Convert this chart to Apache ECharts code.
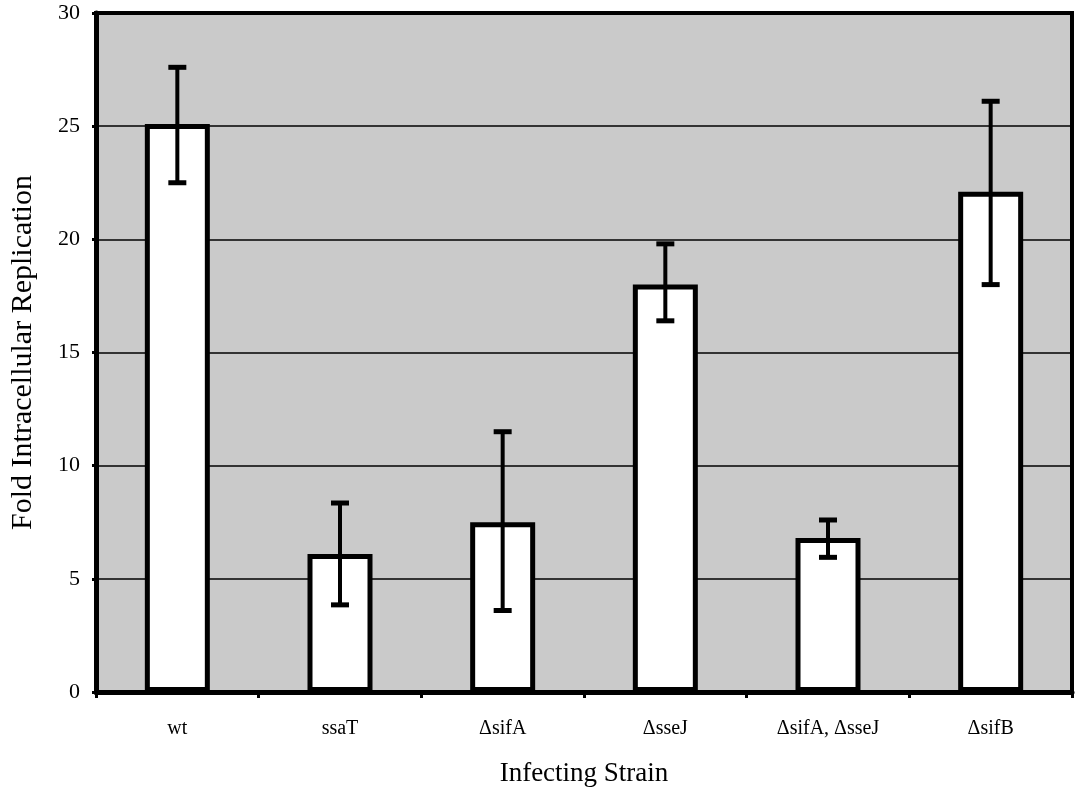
<!DOCTYPE html>
<html><head><meta charset="utf-8">
<script src="https://cdn.jsdelivr.net/npm/echarts@6/dist/echarts.min.js"></script>
<style>html,body{margin:0;padding:0;background:#fff}#c{width:1076px;height:792px}</style>
</head><body><div id="c"></div>
<script>
const categories = ['wt', 'ssaT', '\u0394sifA', '\u0394sseJ', '\u0394sifA, \u0394sseJ', '\u0394sifB'];
const means = [25.1, 6.1, 7.5, 18.0, 6.8, 22.1];
const errLow = [22.5, 3.85, 3.6, 16.4, 5.95, 18.0];
const errHigh = [27.6, 8.35, 11.5, 19.8, 7.6, 26.1];
const yTicks = [0, 5, 10, 15, 20, 25, 30];

const font = 'Liberation Serif';
const chart = echarts.init(document.getElementById('c'), null, {renderer: 'canvas'});
chart.setOption({
  animation: false,
  backgroundColor: '#fff',
  grid: {left: 96, right: 4, top: 13, bottom: 100, show: true, containLabel: false,
         outerBoundsMode: 'none',
         backgroundColor: '#cacaca', borderColor: '#000', borderWidth: 4},
  xAxis: {
    type: 'category', data: categories,
    name: 'Infecting Strain', nameLocation: 'middle', nameGap: 68,
    nameTextStyle: {fontFamily: font, fontSize: 27, color: '#000'},
    axisLine: {lineStyle: {color: '#000', width: 5}},
    axisTick: {show: true, alignWithLabel: false, length: 6, lineStyle: {color: '#000', width: 3}},
    axisLabel: {fontFamily: font, fontSize: 20, color: '#000', margin: 27},
    splitLine: {show: false}
  },
  yAxis: {
    type: 'value', min: yTicks[0], max: yTicks[yTicks.length - 1], interval: 5,
    name: 'Fold Intracellular Replication', nameLocation: 'middle', nameGap: 58,
    nameTextStyle: {fontFamily: font, fontSize: 30, color: '#000'},
    axisLine: {show: true, lineStyle: {color: '#000', width: 5}},
    axisTick: {show: true, length: 4, lineStyle: {color: '#000', width: 3}},
    axisLabel: {fontFamily: font, fontSize: 22, color: '#000', margin: 16},
    splitLine: {show: true, lineStyle: {color: '#000', width: 1.5}}
  },
  series: [
    {
      type: 'bar', data: means, barWidth: 65, z: 3,
      itemStyle: {color: '#fff', borderColor: '#000', borderWidth: 5}
    },
    {
      type: 'custom', z: 5,
      data: categories.map((c, i) => [i, errLow[i], errHigh[i]]),
      renderItem: function (params, api) {
        const x = api.value(0);
        const lo = api.coord([x, api.value(1)]);
        const hi = api.coord([x, api.value(2)]);
        const half = 9;
        const st = {stroke: '#000', lineWidth: 4};
        const cap = {stroke: '#000', lineWidth: 5};
        return {type: 'group', children: [
          {type: 'line', shape: {x1: hi[0], y1: hi[1], x2: lo[0], y2: lo[1]}, style: st},
          {type: 'line', shape: {x1: hi[0] - half, y1: hi[1], x2: hi[0] + half, y2: hi[1]}, style: cap},
          {type: 'line', shape: {x1: lo[0] - half, y1: lo[1], x2: lo[0] + half, y2: lo[1]}, style: cap}
        ]};
      }
    }
  ]
});
</script></body></html>
